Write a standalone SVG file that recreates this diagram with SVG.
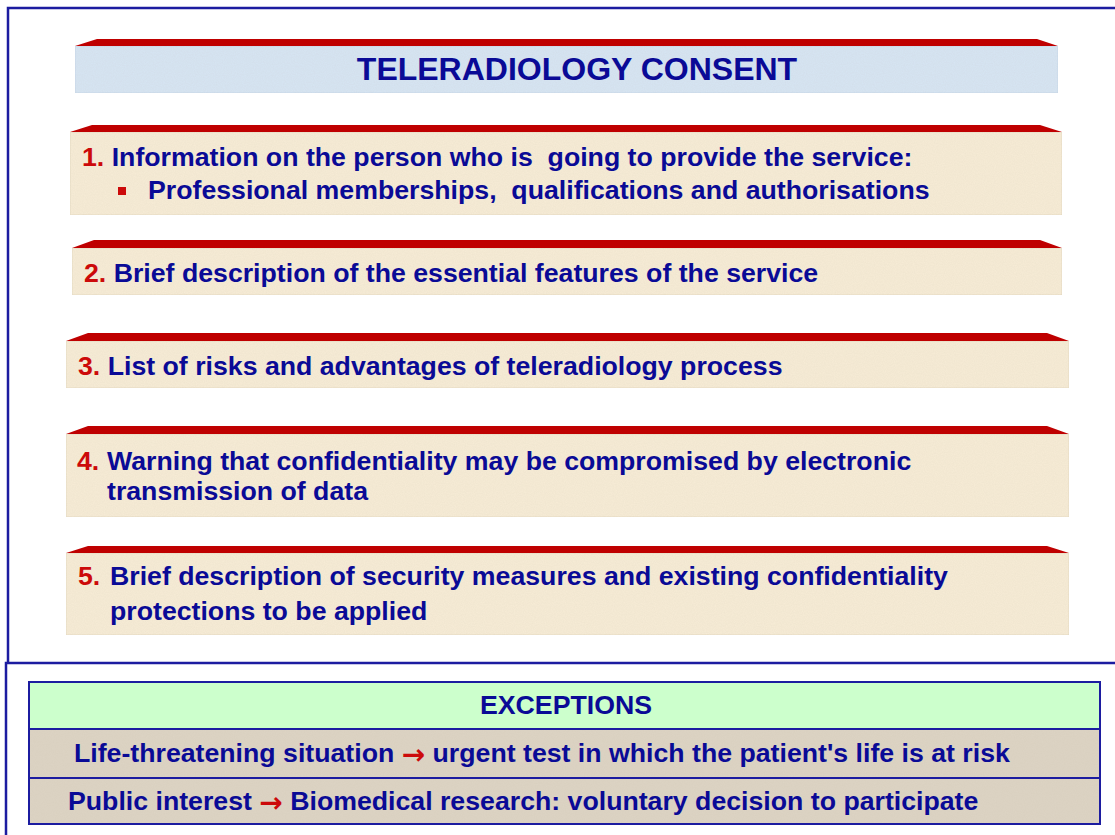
<svg xmlns="http://www.w3.org/2000/svg" width="1115" height="835" viewBox="0 0 1115 835">
<defs>
<style>
.frame{stroke:#1c1ca0;stroke-width:2.5;fill:none}
.band{fill:#bf0000}
.body{fill:#f7ecd6;stroke:#e6dcc4;stroke-width:1}
.tbody{fill:#d6e5f4;stroke:#c8d8ea;stroke-width:1}
.t{font-family:"Liberation Sans",Arial,sans-serif;font-weight:bold;fill:#0a0a96;font-size:26.7px}
.n{fill:#cc0a0a}
.ar{fill:#cc0a0a;font-family:"DejaVu Sans",sans-serif;font-weight:bold;font-size:28px}
.ex{stroke:#1c1ca0;stroke-width:2}
</style>
<filter id="grain" x="0" y="0" width="100%" height="100%">
<feTurbulence type="fractalNoise" baseFrequency="0.9" numOctaves="2" seed="3" result="noise"/>
<feColorMatrix in="noise" type="matrix" values="0 0 0 0 0.5  0 0 0 0 0.45  0 0 0 0 0.35  0 0 0 0.15 0" result="g"/>
<feComposite in="g" in2="SourceGraphic" operator="atop"/>
</filter>
</defs>
<rect width="1115" height="835" fill="#ffffff"/>

<g id="frame">
<path class="frame" d="M1115 8 H8 V663"/>
<path class="frame" d="M1115 663 H6 V835"/>
</g>

<g id="title">
<polygon class="band" points="75,46 97,39 1037,39 1058,46"/>
<rect class="tbody" x="75" y="46" width="983" height="47" filter="url(#grain)"/>
<text class="t" x="577" y="80" text-anchor="middle" style="font-size:32px">TELERADIOLOGY CONSENT</text>
</g>

<g id="item1">
<polygon class="band" points="70,132 92,125 1040,125 1062,132"/>
<rect class="body" x="70" y="132" width="992" height="83" filter="url(#grain)"/>
<text class="t" x="82" y="166" xml:space="preserve"><tspan class="n">1.</tspan> Information on the person who is  going to provide the service:</text>
<rect x="118" y="187" width="8" height="8" fill="#cc0a0a"/>
<text class="t" x="148" y="199" xml:space="preserve">Professional memberships,  qualifications and authorisations</text>
</g>

<g id="item2">
<polygon class="band" points="72,248 94,240 1040,240 1062,248"/>
<rect class="body" x="72" y="248" width="990" height="47" filter="url(#grain)"/>
<text class="t" x="84" y="282"><tspan class="n">2.</tspan> Brief description of the essential features of the service</text>
</g>

<g id="item3">
<polygon class="band" points="66,341 88,333 1047,333 1069,341"/>
<rect class="body" x="66" y="341" width="1003" height="47" filter="url(#grain)"/>
<text class="t" x="78" y="375"><tspan class="n">3.</tspan> List of risks and advantages of teleradiology process</text>
</g>

<g id="item4">
<polygon class="band" points="66,434 88,426 1047,426 1069,434"/>
<rect class="body" x="66" y="434" width="1003" height="83" filter="url(#grain)"/>
<text class="t" x="77" y="470"><tspan class="n">4.</tspan><tspan x="107">Warning that confidentiality may be compromised by electronic</tspan></text>
<text class="t" x="107" y="500">transmission of data</text>
</g>

<g id="item5">
<polygon class="band" points="66,553 88,546 1047,546 1069,553"/>
<rect class="body" x="66" y="553" width="1003" height="82" filter="url(#grain)"/>
<text class="t" x="78" y="585"><tspan class="n">5.</tspan><tspan x="110">Brief description of security measures and existing confidentiality</tspan></text>
<text class="t" x="110" y="620">protections to be applied</text>
</g>

<g id="exceptions">
<rect x="29" y="682" width="1071" height="47" fill="#ccffcc"/>
<rect x="29" y="729" width="1071" height="95" fill="#ddd4c4" filter="url(#grain)"/>
<rect x="29" y="682" width="1071" height="142" fill="none" class="ex"/>
<line x1="29" y1="729" x2="1100" y2="729" class="ex"/>
<line x1="29" y1="778" x2="1100" y2="778" class="ex"/>
<text class="t" x="566" y="714" text-anchor="middle">EXCEPTIONS</text>
<text class="t" x="74" y="762">Life-threatening situation <tspan class="ar" dy="2">→</tspan><tspan dy="-2"> urgent test in which the patient's life is at risk</tspan></text>
<text class="t" x="68" y="810">Public interest <tspan class="ar" dy="2">→</tspan><tspan dy="-2"> Biomedical research: voluntary decision to participate</tspan></text>
</g>
</svg>
